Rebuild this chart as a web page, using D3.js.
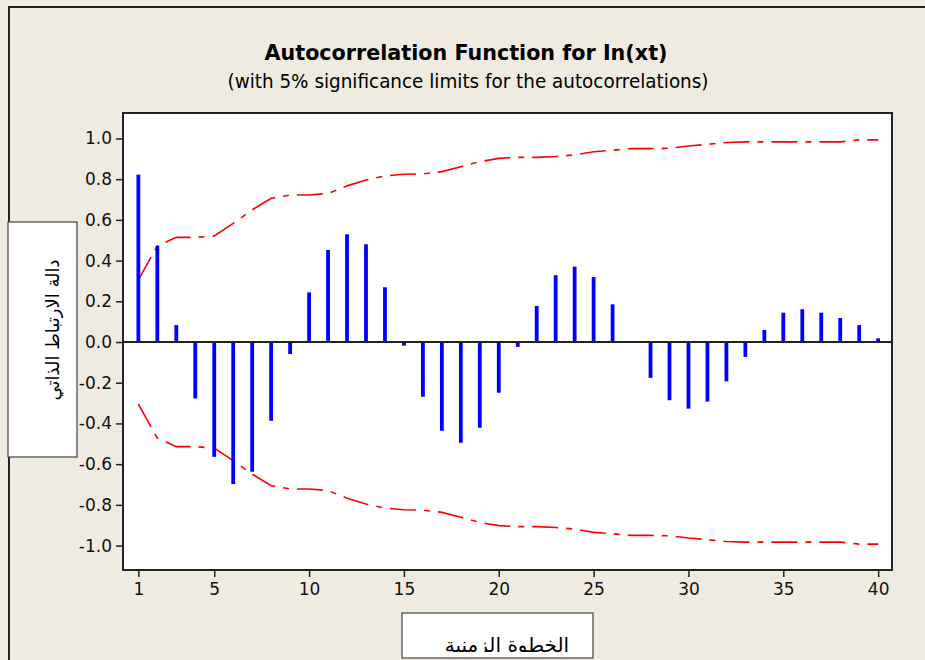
<!DOCTYPE html>
<html>
<head>
<meta charset="utf-8">
<script src="https://cdn.jsdelivr.net/npm/d3@7"></script>
<style>
  html, body { margin: 0; padding: 0; background: #EFEBE1; }
  svg { display: block; }
</style>
</head>
<body>
<svg id="chart" width="925" height="660"></svg>
<script>
// Lags and sample autocorrelations of ln(xt)
const lags = d3.range(1, 41);
const acf = [0.822, 0.472, 0.083, -0.277, -0.564, -0.698, -0.637, -0.387, -0.059, 0.244,
             0.452, 0.529, 0.480, 0.269, -0.018, -0.269, -0.436, -0.495, -0.421, -0.249,
             -0.024, 0.177, 0.328, 0.370, 0.319, 0.185, 0.003, -0.176, -0.286, -0.327,
             -0.293, -0.193, -0.073, 0.059, 0.144, 0.161, 0.144, 0.118, 0.083, 0.018];

// 5% significance limits
const upperLimit = [0.305, 0.472, 0.514, 0.514, 0.521, 0.583, 0.649, 0.706, 0.722, 0.722,
                    0.730, 0.767, 0.796, 0.816, 0.824, 0.826, 0.837, 0.861, 0.886, 0.902,
                    0.907, 0.907, 0.911, 0.919, 0.935, 0.942, 0.950, 0.950, 0.952, 0.963,
                    0.971, 0.980, 0.983, 0.983, 0.983, 0.983, 0.983, 0.983, 0.993, 0.993];
const lowerLimit = [-0.305, -0.472, -0.514, -0.514, -0.521, -0.583, -0.649, -0.706, -0.722, -0.722,
                    -0.730, -0.767, -0.796, -0.816, -0.824, -0.826, -0.837, -0.861, -0.886, -0.902,
                    -0.907, -0.907, -0.911, -0.919, -0.935, -0.942, -0.950, -0.950, -0.952, -0.963,
                    -0.971, -0.980, -0.983, -0.983, -0.983, -0.983, -0.983, -0.983, -0.993, -0.993];

const xTicks = [1, 5, 10, 15, 20, 25, 30, 35, 40];
const yTicks = [-1.0, -0.8, -0.6, -0.4, -0.2, 0.0, 0.2, 0.4, 0.6, 0.8, 1.0];

const titleText = "Autocorrelation Function for In(xt)";
const subtitleText = "(with 5% significance limits for the autocorrelations)";
const yLabelText = "دالة الارتباط الذاتي";
const xLabelText = "الخطوة الزمنية";

const svg = d3.select("#chart");
const plot = { left: 123, right: 892, top: 113, bottom: 570 };

const x = d3.scaleLinear().domain([0.19, 40.73]).range([plot.left, plot.right]);
const y = d3.scaleLinear().domain([-1.12, 1.125]).range([plot.bottom, plot.top]);

// page frame
svg.append("path")
  .attr("d", "M9,660 V7 H925")
  .attr("fill", "none").attr("stroke", "#222").attr("stroke-width", 2);

// titles
svg.append("text")
  .attr("x", 466).attr("y", 60)
  .attr("text-anchor", "middle")
  .attr("font-family", "'DejaVu Sans Condensed', 'DejaVu Sans', sans-serif")
  .attr("font-weight", "bold").attr("font-size", 22)
  .attr("textLength", 403).attr("lengthAdjust", "spacingAndGlyphs")
  .attr("fill", "#000")
  .text(titleText);

svg.append("text")
  .attr("x", 468).attr("y", 88)
  .attr("text-anchor", "middle")
  .attr("font-family", "'DejaVu Sans Condensed', 'DejaVu Sans', sans-serif")
  .attr("font-size", 19)
  .attr("textLength", 481).attr("lengthAdjust", "spacingAndGlyphs")
  .attr("fill", "#000")
  .text(subtitleText);

// plot background
svg.append("rect")
  .attr("x", plot.left).attr("y", plot.top)
  .attr("width", plot.right - plot.left).attr("height", plot.bottom - plot.top)
  .attr("fill", "#fff");

// significance limits (dash-dot)
const limitLine = d3.line().x((d, i) => x(lags[i])).y(d => y(d));
[upperLimit, lowerLimit].forEach(series => {
  svg.append("path")
    .datum(series)
    .attr("d", limitLine)
    .attr("fill", "none")
    .attr("stroke", "#FF0000")
    .attr("stroke-width", 1.6)
    .attr("stroke-dasharray", "26,8,6,8");
});

// autocorrelation bars
const barW = 3.8;
svg.append("g").selectAll("rect")
  .data(acf)
  .join("rect")
  .attr("x", (d, i) => x(lags[i]) - barW / 2)
  .attr("y", d => Math.min(y(d), y(0)))
  .attr("width", barW)
  .attr("height", d => Math.abs(y(d) - y(0)))
  .attr("fill", "#0000FF");

// zero reference line
svg.append("line")
  .attr("x1", plot.left).attr("x2", plot.right)
  .attr("y1", y(0)).attr("y2", y(0))
  .attr("stroke", "#222").attr("stroke-width", 2);

// plot frame
svg.append("rect")
  .attr("x", plot.left).attr("y", plot.top)
  .attr("width", plot.right - plot.left).attr("height", plot.bottom - plot.top)
  .attr("fill", "none").attr("stroke", "#222").attr("stroke-width", 2);

// axes
const tickFont = "'DejaVu Sans', Verdana, sans-serif";
const xAxis = svg.append("g")
  .attr("transform", `translate(0,${plot.bottom})`)
  .call(d3.axisBottom(x).tickValues(xTicks).tickSize(7).tickSizeOuter(0).tickPadding(6)
    .tickFormat(d3.format("d")));
const yAxis = svg.append("g")
  .attr("transform", `translate(${plot.left},0)`)
  .call(d3.axisLeft(y).tickValues(yTicks).tickSize(7).tickSizeOuter(0).tickPadding(4)
    .tickFormat(d => d.toFixed(1)));
[xAxis, yAxis].forEach(g => {
  g.select(".domain").remove();
  g.selectAll(".tick line").attr("stroke", "#222").attr("stroke-width", 1.5);
  g.selectAll(".tick text")
    .attr("font-family", tickFont).attr("font-size", 17).attr("fill", "#111");
});

// y-axis label box
svg.append("rect")
  .attr("x", 8).attr("y", 222).attr("width", 69).attr("height", 235)
  .attr("fill", "#fff").attr("stroke", "#444").attr("stroke-width", 1.2);
svg.append("text")
  .attr("transform", "translate(52,330) rotate(-90)")
  .attr("text-anchor", "middle")
  .attr("dominant-baseline", "central")
  .attr("font-family", "'DejaVu Sans', sans-serif")
  .attr("font-size", 18)
  .attr("fill", "#000")
  .text(yLabelText);

// x-axis label box
svg.append("defs").append("clipPath").attr("id", "xlab-clip")
  .append("rect").attr("x", 402).attr("y", 613).attr("width", 191).attr("height", 39);
svg.append("rect")
  .attr("x", 402).attr("y", 613).attr("width", 191).attr("height", 45)
  .attr("fill", "#fff").attr("stroke", "#444").attr("stroke-width", 1.2);
svg.append("text")
  .attr("x", 507).attr("y", 652)
  .attr("text-anchor", "middle")
  .attr("clip-path", "url(#xlab-clip)")
  .attr("font-family", "'DejaVu Sans', sans-serif")
  .attr("font-size", 20)
  .attr("fill", "#000")
  .text(xLabelText);
</script>
</body>
</html>
